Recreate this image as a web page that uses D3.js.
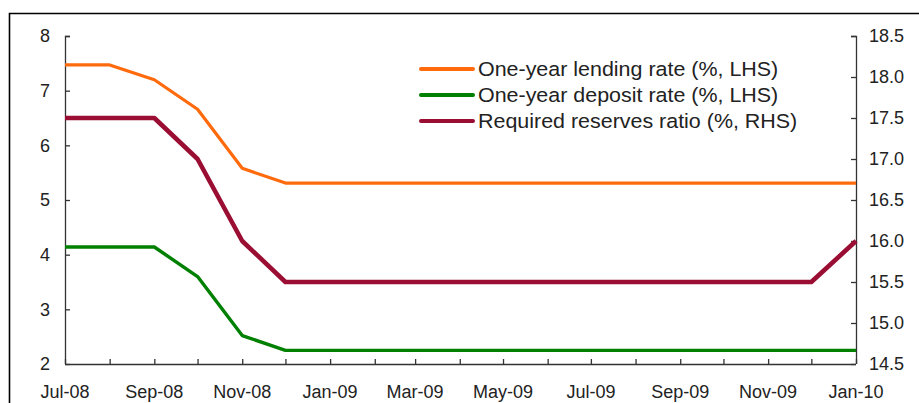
<!DOCTYPE html>
<html>
<head>
<meta charset="utf-8">
<script src="https://cdn.jsdelivr.net/npm/d3@7"></script>
<style>
  html, body { margin: 0; padding: 0; background: #fff; }
  svg { display: block; font-family: "Liberation Sans", Arial, sans-serif; }
</style>
</head>
<body>
<svg id="chart" width="919" height="403"></svg>
<script>
// ---- data ----
const months = ["2008-07","2008-08","2008-09","2008-10","2008-11","2008-12",
  "2009-01","2009-02","2009-03","2009-04","2009-05","2009-06","2009-07",
  "2009-08","2009-09","2009-10","2009-11","2009-12","2010-01"];
const lendingRate = [7.47,7.47,7.20,6.66,5.58,5.31,5.31,5.31,5.31,5.31,5.31,5.31,5.31,5.31,5.31,5.31,5.31,5.31,5.31];
const depositRate = [4.14,4.14,4.14,3.60,2.52,2.25,2.25,2.25,2.25,2.25,2.25,2.25,2.25,2.25,2.25,2.25,2.25,2.25,2.25];
const reserveRatio = [17.5,17.5,17.5,17.0,16.0,15.5,15.5,15.5,15.5,15.5,15.5,15.5,15.5,15.5,15.5,15.5,15.5,15.5,16.0];
const leftTicks = [2,3,4,5,6,7,8];
const rightTicks = [14.5,15.0,15.5,16.0,16.5,17.0,17.5,18.0,18.5];
const seriesNames = ["One-year lending rate (%, LHS)","One-year deposit rate (%, LHS)","Required reserves ratio (%, RHS)"];
const seriesColors = ["#FF6A0D","#008000","#9B0E33"];

// ---- layout ----
const svg = d3.select("#chart");
const X0 = 65, X1 = 856, Y0 = 36, Y1 = 364;
const parse = d3.timeParse("%Y-%m");
const dates = months.map(parse);

const x = d3.scaleTime().domain([dates[0], dates[dates.length-1]]).range([X0, X1]);
const yL = d3.scaleLinear().domain([2, 8]).range([Y1, Y0]);
const yR = d3.scaleLinear().domain([14.5, 18.5]).range([Y1, Y0]);

// outer frame
svg.append("path")
  .attr("d", "M9.5,403 L9.5,13.5 L919,13.5")
  .attr("fill", "none").attr("stroke", "#000").attr("stroke-width", 1.6);

const axisColor = "#333";
const textColor = "#222";

// left axis
const gL = svg.append("g").attr("transform", `translate(${X0},0)`)
  .call(d3.axisRight(yL).tickValues(leftTicks).tickSize(5).tickFormat(d3.format("d")));
gL.selectAll("text").attr("x", -15).attr("text-anchor", "end");

// right axis
const gR = svg.append("g").attr("transform", `translate(${X1},0)`)
  .call(d3.axisLeft(yR).tickValues(rightTicks).tickSize(5).tickFormat(d3.format(".1f")));
gR.selectAll("text").attr("x", 13).attr("text-anchor", "start");

// bottom axis
const xTicks = dates;
const gB = svg.append("g").attr("transform", `translate(0,${Y1})`)
  .call(d3.axisTop(x).tickValues(xTicks).tickSize(5).tickFormat(""));
const labelDates = dates.filter((d, i) => i % 2 === 0);
svg.append("g").selectAll("text").data(labelDates).join("text")
  .attr("x", d => x(d)).attr("y", 398)
  .attr("text-anchor", "middle")
  .attr("font-size", 18).attr("fill", textColor)
  .text(d => d3.timeFormat("%b-%y")(d));

[gL, gR, gB].forEach(g => {
  g.select(".domain").attr("stroke", axisColor).attr("stroke-width", 1.3);
  g.selectAll(".tick line").attr("stroke", axisColor).attr("stroke-width", 1.3);
  g.selectAll("text").attr("font-size", 18).attr("fill", textColor)
    .attr("font-family", "Liberation Sans, Arial, sans-serif");
});
gL.select(".domain").attr("d", `M5,${Y0}.5H0.5V${Y1}`);
gR.select(".domain").attr("d", `M-5,${Y0}.5H0.5V${Y1}`);
gB.select(".domain").attr("d", `M${X0},0.5H${X1}`);

// lines
const lineL = d3.line().x((d, i) => x(dates[i])).y(d => yL(d));
const lineR = d3.line().x((d, i) => x(dates[i])).y(d => yR(d));
svg.append("path").datum(lendingRate).attr("d", lineL)
  .attr("fill", "none").attr("stroke", seriesColors[0]).attr("stroke-width", 3.2).attr("stroke-linejoin", "round");
svg.append("path").datum(depositRate).attr("d", lineL)
  .attr("fill", "none").attr("stroke", seriesColors[1]).attr("stroke-width", 3.4).attr("stroke-linejoin", "round");
svg.append("path").datum(reserveRatio).attr("d", lineR)
  .attr("fill", "none").attr("stroke", seriesColors[2]).attr("stroke-width", 4.6).attr("stroke-linejoin", "round");

// legend
const lg = svg.append("g");
seriesNames.forEach((name, i) => {
  const cy = 69 + i * 26;
  lg.append("line").attr("x1", 421).attr("x2", 473).attr("y1", cy).attr("y2", cy)
    .attr("stroke", seriesColors[i]).attr("stroke-width", 4).attr("stroke-linecap", "round");
  lg.append("text").attr("transform", `translate(478,${cy + 7}) scale(1.1,1)`)
    .attr("font-size", 19.5).attr("fill", textColor).text(name);
});
</script>
</body>
</html>
